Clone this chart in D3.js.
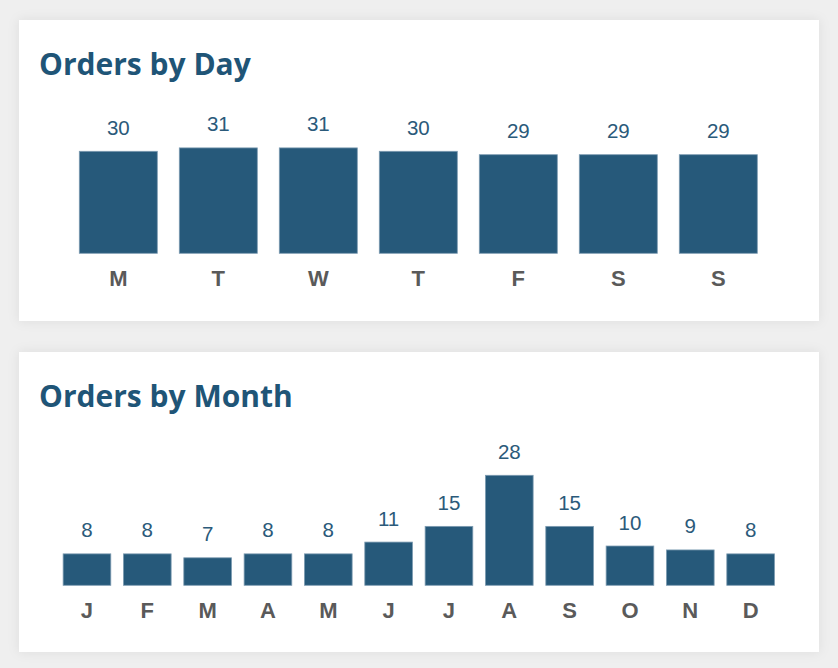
<!DOCTYPE html>
<html>
<head>
<meta charset="utf-8">
<script src="https://cdn.jsdelivr.net/npm/d3@7"></script>
<style>
  html, body { margin: 0; padding: 0; background: #efefef; }
  svg { display: block; }
</style>
</head>
<body>
<div id="chart"></div>
<script>
const dayLabels = ['M', 'T', 'W', 'T', 'F', 'S', 'S']
const dayOrders = [30, 31, 31, 30, 29, 29, 29]

const monthLabels = ['J', 'F', 'M', 'A', 'M', 'J', 'J', 'A', 'S', 'O', 'N', 'D']
const monthOrders = [8, 8, 7, 8, 8, 11, 15, 28, 15, 10, 9, 8]

const W = 838, H = 668
const BAR = '#26597a'

const svg = d3.select('#chart').append('svg')
    .attr('width', W)
    .attr('height', H)

const defs = svg.append('defs')
defs.append('filter')
    .attr('id', 'shadow')
    .attr('x', '-10%').attr('y', '-10%')
    .attr('width', '120%').attr('height', '120%')
  .append('feDropShadow')
    .attr('dx', 0).attr('dy', 0)
    .attr('stdDeviation', 6)
    .attr('flood-color', '#000')
    .attr('flood-opacity', 0.08)

function card(top, height, title, labels, values, opts) {
    const g = svg.append('g')

    g.append('rect')
        .attr('x', 19).attr('y', top)
        .attr('width', 800).attr('height', height)
        .attr('fill', '#fff')
        .attr('filter', 'url(#shadow)')

    g.append('text')
        .attr('x', 39).attr('y', top + 54.5)
        .attr('font-family', '"Open Sans", "Noto Sans", sans-serif')
        .attr('font-weight', 700)
        .attr('font-size', 30)
        .attr('fill', '#1f5577')
        .text(title)

    // band positions are keyed by index, labels repeat
    const x = d3.scaleBand()
        .domain(d3.range(labels.length))
        .range(opts.xRange)
        .paddingInner(opts.pad)
        .paddingOuter(opts.pad / 2)

    const y = d3.scaleLinear()
        .domain([0, opts.yMax])
        .range([opts.base, opts.base - opts.plotH])

    g.selectAll('rect.bar')
        .data(values)
        .enter().append('rect')
            .attr('class', 'bar')
            .attr('x', (d, i) => x(i))
            .attr('y', d => y(d))
            .attr('width', x.bandwidth())
            .attr('height', d => opts.base - y(d))
            .attr('fill', BAR)
            .attr('stroke', '#7c9bb1')
            .attr('stroke-width', 0.8)

    g.selectAll('text.val')
        .data(values)
        .enter().append('text')
            .attr('class', 'val')
            .attr('x', (d, i) => x(i) + x.bandwidth() / 2)
            .attr('y', d => y(d) - 16.5)
            .attr('text-anchor', 'middle')
            .attr('font-family', 'Arial, "Liberation Sans", sans-serif')
            .attr('font-size', 20.5)
            .attr('fill', '#2b5a7a')
            .text(d => d)

    const xAxis = d3.axisBottom(x)
        .tickSize(0)
        .tickPadding(0)
        .tickFormat(i => labels[i])

    const ax = g.append('g')
        .attr('transform', `translate(0, ${opts.base})`)
        .call(xAxis)
    ax.select('.domain').remove()
    ax.selectAll('text')
        .attr('dy', null)
        .attr('y', 32.8)
        .attr('font-family', 'Arial, "Liberation Sans", sans-serif')
        .attr('font-size', 22)
        .attr('font-weight', 700)
        .attr('fill', '#5a5a5a')
}

card(20, 301, 'Orders by Day', dayLabels, dayOrders,
    { xRange: [68.3, 768.3], pad: 0.22, yMax: 31, plotH: 105.4, base: 253.3 })

card(352, 300, 'Orders by Month', monthLabels, monthOrders,
    { xRange: [56.8, 780.8], pad: 0.21, yMax: 28, plotH: 110, base: 585.3 })
</script>
</body>
</html>
